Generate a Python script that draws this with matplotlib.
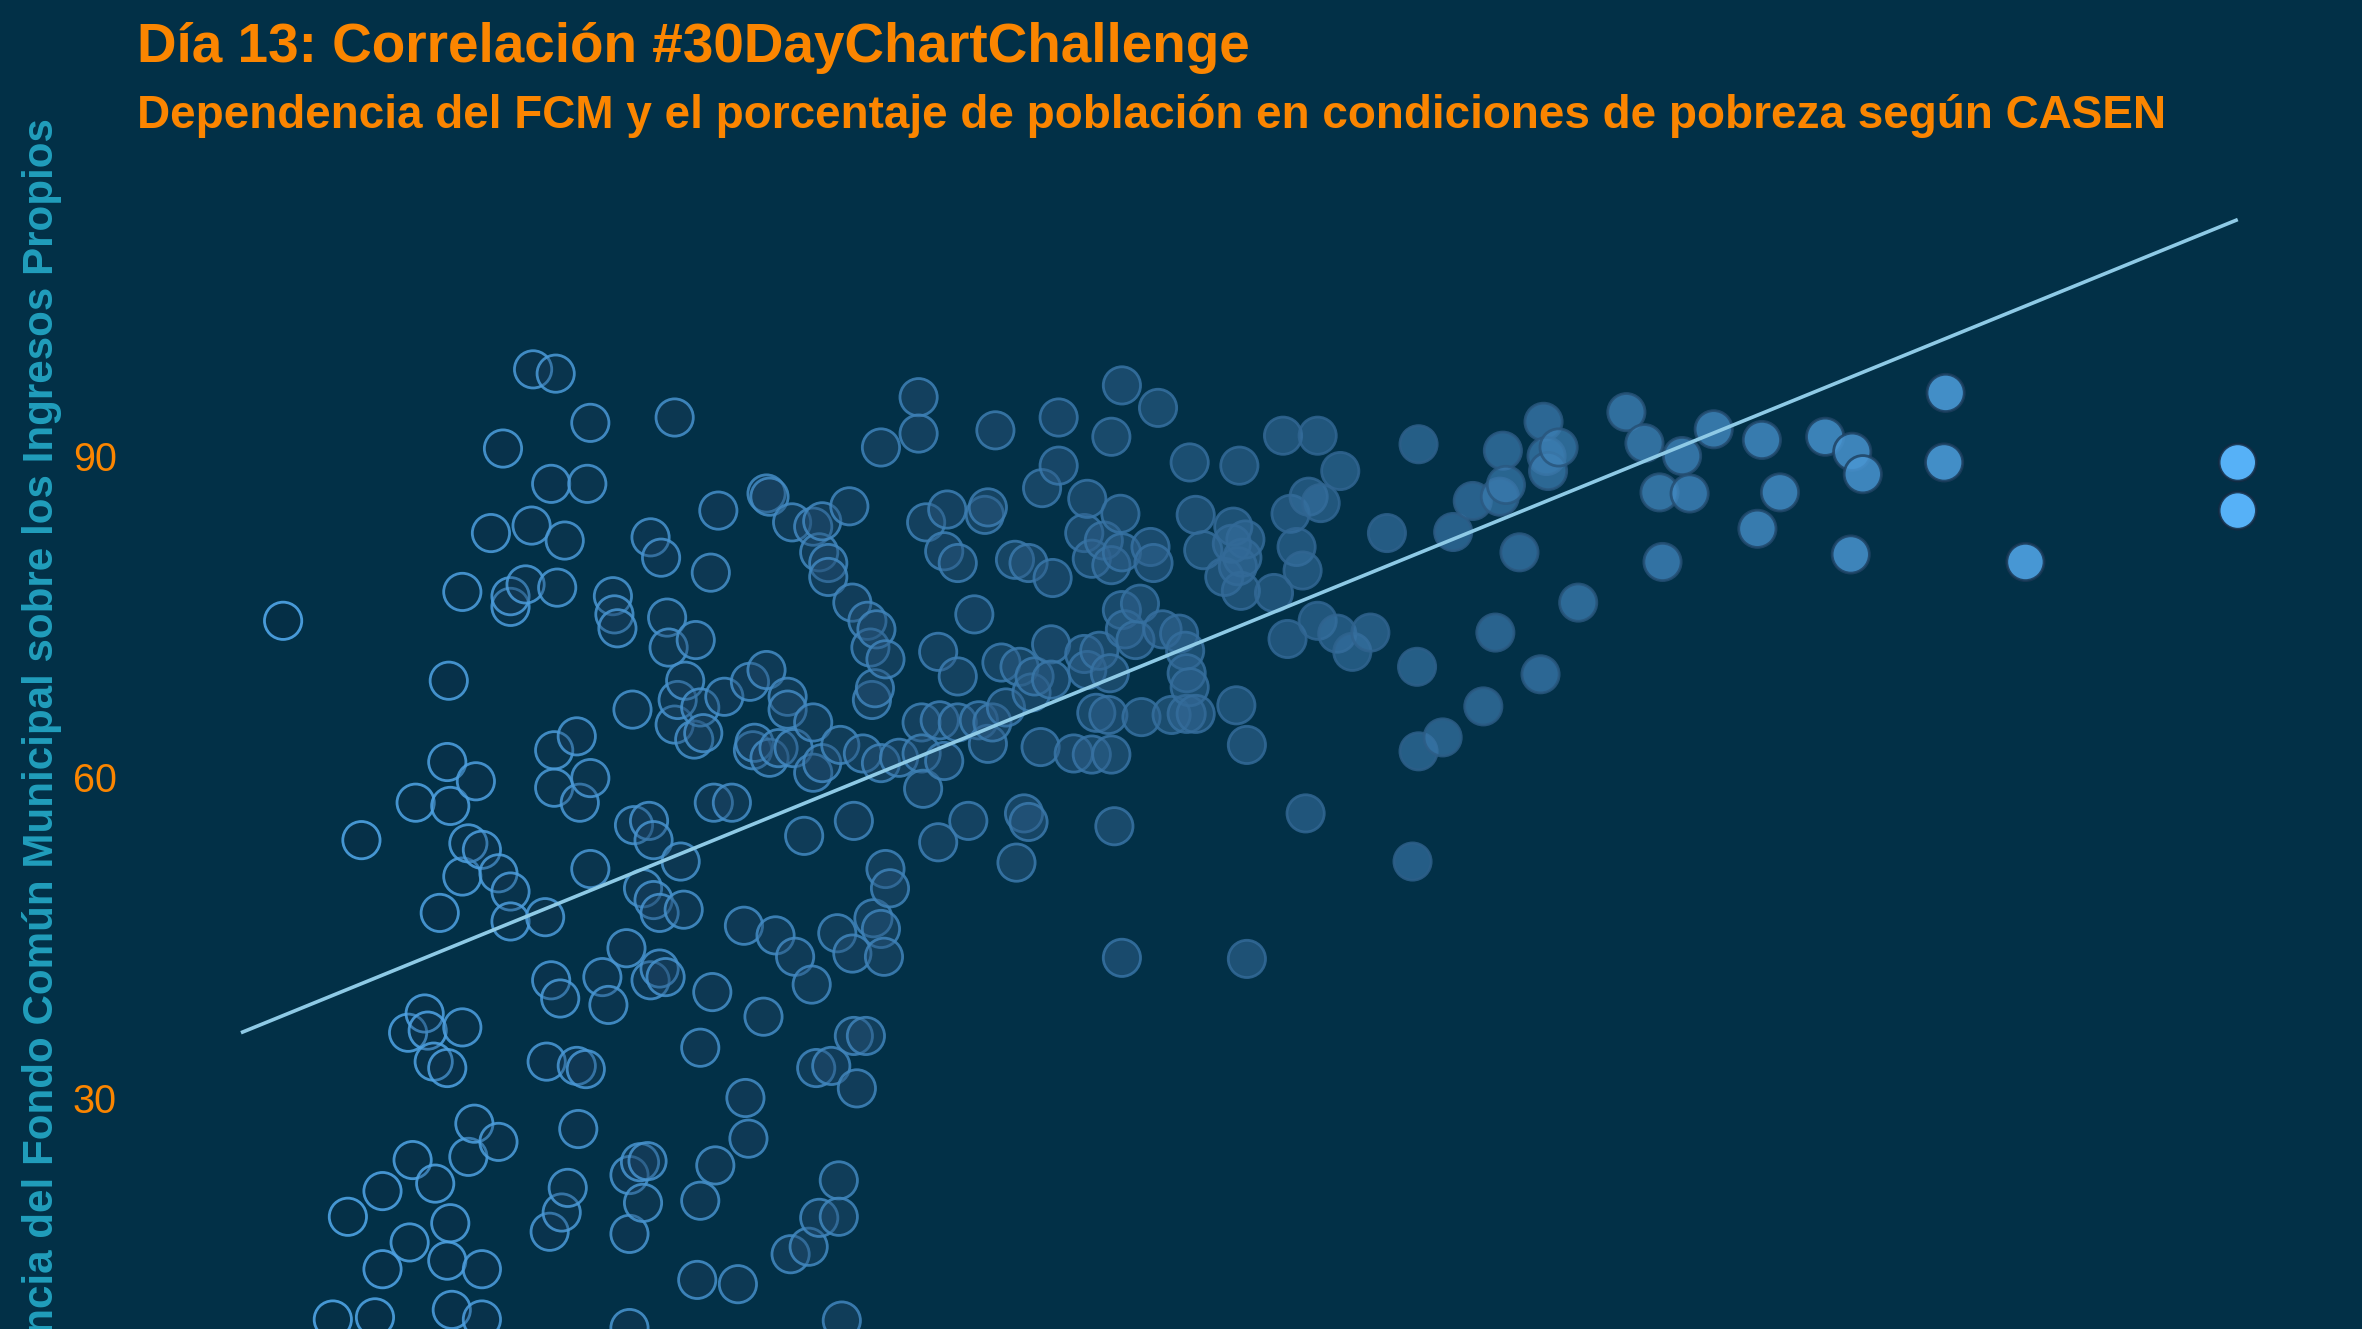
import numpy as np
import matplotlib.pyplot as plt
from matplotlib.colors import LinearSegmentedColormap

# --- Datos ---
# % de población en situación de pobreza (CASEN) por comuna
pobreza = [
    3.76, 4.80, 4.42, 4.62, 4.98, 5.08, 5.08, 5.42, 5.44, 5.48,
    5.52, 5.64, 5.68, 5.76, 5.78, 5.84, 5.94, 5.94, 5.98, 5.96,
    5.94, 5.98, 6.00, 6.14, 6.14, 6.14, 6.22, 6.22, 6.30, 6.32,
    6.40, 6.40, 6.40, 6.52, 6.62, 6.62, 6.68, 6.78, 6.78, 6.78,
    6.78, 7.06, 7.08, 6.98, 7.24, 7.26, 7.32, 7.32, 7.36, 7.36,
    7.38, 7.40, 7.44, 7.46, 7.50, 7.30, 7.54, 7.66, 7.70, 7.66,
    7.68, 7.78, 7.80, 7.84, 7.84, 7.84, 8.00, 8.08, 8.14, 8.16,
    8.20, 8.32, 8.36, 8.36, 8.36, 8.40, 8.42, 8.50, 8.54, 8.54,
    8.60, 8.62, 8.64, 8.64, 8.68, 8.68, 8.76, 8.76, 8.78, 8.84,
    8.86, 8.88, 8.96, 8.96, 9.00, 9.04, 9.08, 9.10, 9.22, 9.24,
    9.26, 9.30, 9.30, 9.34, 9.44, 9.46, 9.50, 9.54, 9.62, 9.48,
    9.72, 9.30, 9.80, 9.90, 9.94, 9.96, 9.88, 10.00, 10.02, 10.14,
    10.18, 10.18, 10.22, 10.22, 10.30, 10.34, 10.46, 10.46, 10.50, 10.52,
    10.54, 10.56, 10.74, 10.78, 10.80, 10.80, 10.80, 10.84, 11.04, 10.88,
    10.88, 10.92, 10.92, 11.00, 11.00, 11.12, 11.14, 11.14, 11.16, 11.18,
    11.28, 11.32, 11.32, 11.34, 11.50, 11.38, 11.46, 11.52, 11.56, 11.58,
    11.60, 11.62, 11.64, 11.70, 11.70, 11.70, 11.74, 11.76, 11.76, 11.82,
    11.94, 12.20, 12.20, 12.24, 12.24, 12.26, 12.30, 12.46, 12.46, 12.48,
    12.54, 12.54, 12.58, 12.72, 12.72, 12.72, 12.86, 12.94, 13.00, 13.08,
    13.12, 13.12, 13.18, 13.22, 13.30, 13.36, 13.48, 13.50, 13.54, 13.60,
    13.66, 13.66, 13.70, 13.74, 13.82, 13.84, 13.96, 13.96, 13.98, 14.06,
    14.06, 14.26, 14.40, 14.40, 14.44, 14.44, 14.50, 14.50, 14.56, 14.60,
    14.66, 14.72, 14.74, 14.76, 14.76, 14.76, 14.80, 14.88, 14.90, 14.90,
    14.90, 14.90, 14.94, 15.08, 15.14, 15.16, 15.28, 15.32, 15.38, 15.44,
    15.56, 15.66, 15.74, 15.76, 15.76, 15.80, 15.80, 15.88, 15.88, 15.98,
    16.26, 16.36, 16.38, 16.42, 16.44, 16.46, 16.48, 16.50, 16.54, 16.56,
    16.56, 16.92, 17.04, 17.10, 17.14, 17.38, 17.22, 17.30, 17.34, 17.50,
    17.54, 17.50, 17.76, 17.80, 17.96, 18.20, 18.42, 18.76, 18.82, 18.84,
    18.84, 19.16, 19.30, 19.56, 19.70, 19.86, 19.92, 19.96, 20.00, 20.18,
    20.46, 20.50, 20.54, 20.56, 20.70, 20.96, 21.60, 21.84, 22.04, 22.08,
    22.34, 22.44, 22.76, 23.34, 23.40, 23.64, 24.24, 24.58, 24.60, 24.74,
    25.84, 25.82, 26.90, 29.72, 29.72, 11.34, 10.68,
]

# % de dependencia del FCM sobre los ingresos propios
dependencia_fcm = [
    74.6, 54.1, 9.3, 18.9, 9.5, 21.3, 14.0, 36.1, 16.5, 24.2,
    57.6, 37.9, 36.3, 33.4, 22.0, 47.3, 61.4, 32.8, 57.3, 69.0,
    14.8, 18.3, 10.2, 50.7, 77.3, 36.6, 53.8, 24.5, 27.6, 59.6,
    53.2, 14.0, 9.3, 82.8, 51.0, 25.9, 90.7, 49.3, 46.5, 75.9,
    76.9, 83.5, 98.1, 78.0, 46.9, 33.4, 87.4, 41.0, 62.5, 59.0,
    97.7, 77.7, 39.3, 19.3, 82.1, 17.5, 21.6, 63.8, 57.6, 33.0,
    27.1, 32.7, 87.4, 93.1, 59.9, 51.4, 41.3, 38.7, 76.9, 75.2,
    73.9, 44.0, 22.8, 17.3, 8.5, 66.3, 55.5, 24.0, 49.6, 20.2,
    24.1, 55.9, 82.4, 41.0, 54.1, 48.5, 47.3, 42.1, 80.5, 41.3,
    74.9, 72.1, 93.6, 64.9, 67.2, 52.1, 47.6, 69.0, 63.5, 72.8,
    13.0, 66.5, 34.7, 64.1, 79.1, 39.9, 23.7, 84.9, 67.5, 57.6,
    57.6, 20.4, 12.6, 30.0, 26.2, 68.9, 46.1, 62.5, 63.2, 37.6,
    86.5, 70.0, 86.2, 61.8, 45.2, 62.7, 67.5, 66.3, 15.4, 83.8,
    62.7, 43.2, 16.1, 40.6, 83.4, 65.1, 60.4, 32.8, 33.0, 81.0,
    18.8, 83.9, 61.3, 80.0, 78.7, 45.4, 22.3, 18.9, 63.0, 9.2,
    85.3, 76.3, 43.5, 35.8, 35.8, 30.9, 62.2, 74.6, 72.1, 67.2,
    46.8, 68.3, 73.8, 90.8, 61.3, 45.8, 43.2, 71.0, 51.4, 49.6,
    61.8, 95.5, 92.1, 65.1, 62.2, 58.9, 83.8, 71.7, 53.9, 65.3,
    81.1, 61.5, 85.0, 80.0, 69.4, 65.1, 55.9, 75.2, 65.3, 84.5,
    85.2, 63.1, 65.1, 92.4, 70.7, 66.5, 80.3, 52.0, 70.3, 56.6,
    80.0, 55.8, 67.9, 69.4, 62.8, 87.0, 72.4, 69.1, 78.6, 93.6,
    89.1, 62.2, 82.8, 71.5, 86.0, 70.0, 80.4, 62.1, 66.0, 71.8,
    82.1, 65.8, 69.7, 91.8, 79.8, 62.1, 55.4, 84.6, 96.6, 81.0,
    75.6, 43.1, 73.8, 72.8, 76.2, 65.6, 81.5, 80.0, 94.5, 73.8,
    65.8, 73.4, 71.8, 69.7, 65.9, 89.4, 68.4, 84.5, 65.9, 81.2,
    78.7, 81.8, 83.4, 66.7, 79.7, 89.1, 77.4, 80.5, 82.2, 63.0,
    43.0, 77.2, 91.9, 72.9, 84.6, 86.2, 81.5, 79.3, 56.6, 91.9,
    85.6, 74.6, 73.4, 88.6, 71.7, 73.5, 82.8, 52.1, 70.3, 91.1,
    62.4, 63.7, 82.9, 85.8, 66.6, 73.5, 86.2, 90.5, 87.3, 81.0,
    69.6, 93.2, 90.0, 88.6, 90.8, 76.3, 94.1, 91.2, 86.6, 80.1,
    90.0, 86.5, 92.5, 83.2, 91.5, 86.6, 91.8, 80.8, 90.4, 88.3,
    95.9, 89.4, 80.1, 89.4, 84.9, 55.9, 54.5,
]

# recta de regresión (extremos)
tendencia_x = [3.2, 29.72]
tendencia_y = [36.1, 112.1]

marcas_y = [30, 60, 90]

titulo = "Día 13: Correlación #30DayChartChallenge"
subtitulo = ("Dependencia del FCM y el porcentaje de población en "
             "condiciones de pobreza según CASEN")
etiqueta_y = "Dependencia del Fondo Común Municipal sobre los Ingresos Propios"

# --- Estilo ---
fondo = "#023047"
naranja = "#FB8500"
celeste = "#219EBC"
linea = "#8ECAE6"

plt.rcParams["font.family"] = ["Liberation Sans", "DejaVu Sans"]

x = np.array(pobreza)
y = np.array(dependencia_fcm)
orden = np.argsort(x, kind="stable")
x, y = x[orden], y[orden]

gradiente = LinearSegmentedColormap.from_list(
    "azules", ["#132B43", "#336A98", "#56B1F7"])
x_min = min(x.min(), tendencia_x[0])
t = (x - x_min) / (x.max() - x_min)
relleno = gradiente(t)
relleno[:, 3] = 0.15 + 0.85 * t
borde = gradiente(1 - t)
borde[:, 3] = 0.85

fig = plt.figure(figsize=(23.62, 13.29), dpi=100, facecolor=fondo)
# el panel continúa por debajo del borde inferior de la imagen
ax = fig.add_axes([125 / 2362, -90 / 1329, 1 - 125 / 2362, 1 + 90 / 1329])
ax.set_facecolor(fondo)

ax.scatter(x, y, s=720, c=relleno, edgecolors=borde, linewidths=2.0, zorder=2)
ax.plot(tendencia_x, tendencia_y, color=linea, lw=2.6, zorder=3,
        solid_capstyle="butt")

ax.set_xlim(1.66, 31.37)
ax.set_ylim(0, 132.62)
ax.set_xticks([])
ax.set_yticks(marcas_y)
ax.tick_params(axis="y", length=0, pad=5.8, labelsize=28.5, labelcolor=naranja)
for lado in ax.spines.values():
    lado.set_visible(False)

fig.text(137 / 2362, 1 - 62 / 1329, titulo, fontsize=39.5, fontweight="bold",
         color=naranja, ha="left", va="baseline")
fig.text(137 / 2362, 1 - 128 / 1329, subtitulo, fontsize=33, fontweight="bold",
         color=naranja, ha="left", va="baseline")
fig.text(53 / 2362, 1 - 118 / 1329, etiqueta_y, rotation=90,
         rotation_mode="anchor", ha="right", va="baseline", fontsize=30.3,
         fontweight="bold", color=celeste)

fig.savefig("out.png", dpi=100, facecolor=fondo)
